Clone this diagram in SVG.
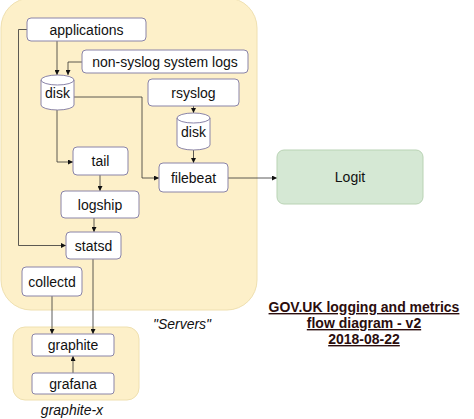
<svg xmlns="http://www.w3.org/2000/svg" width="474" height="419" viewBox="0 0 474 419">
<defs>
<style>
.t{font-family:"Liberation Sans",Arial,sans-serif;font-size:14px;fill:#111;text-anchor:middle}
.n{fill:#fff;stroke:#8a84a8;stroke-width:1}
.c{fill:none;stroke:#333;stroke-width:0.8;marker-end:url(#a)}
.grp{fill:#fdf0c9;stroke:#efe0b0;stroke-width:1}
.ti{font-family:"Liberation Sans",Arial,sans-serif;font-size:14px;font-weight:bold;fill:#2b0d0d;text-anchor:middle;text-decoration:underline}
.lb{font-family:"Liberation Sans",Arial,sans-serif;font-size:14px;font-style:italic;fill:#111;text-anchor:middle}
</style>
<marker id="a" viewBox="0 0 6 6" refX="6" refY="3" markerWidth="5" markerHeight="5" orient="auto" markerUnits="userSpaceOnUse">
<path d="M0,0 L6,3 L0,6 z" fill="#111"/>
</marker>
</defs>
<rect width="474" height="419" fill="#fff"/>
<g id="servers">
<rect class="grp" x="1" y="-2" width="256" height="312" rx="30"/>
<text class="lb" x="182" y="329">"Servers"</text>
</g>
<g id="graphite-x">
<rect class="grp" x="13" y="327" width="126" height="73" rx="12"/>
<text class="lb" x="72" y="415">graphite-x</text>
</g>
<g id="connectors">
<path class="c" d="M27,29.5 H18.5 V245.5 H66"/>
<path class="c" d="M57,41 V75"/>
<path class="c" d="M82,62 H68 V75"/>
<path class="c" d="M74,97 H142 V178 H159"/>
<path class="c" d="M57,110 V162 H73"/>
<path class="c" d="M193.5,106 V113"/>
<path class="c" d="M193.5,150 V163"/>
<path class="c" d="M100,175 V191"/>
<path class="c" d="M94,218 V232"/>
<path class="c" d="M228,178 H277"/>
<path class="c" d="M93,259 V334"/>
<path class="c" d="M52,296 V334"/>
<path class="c" d="M73,373 V356"/>
</g>
<g id="applications">
<rect class="n" x="27" y="18" width="119" height="23" rx="4"/>
<text class="t" x="86.5" y="34.5">applications</text>
</g>
<g id="non-syslog">
<rect class="n" x="82" y="50" width="166" height="23" rx="4"/>
<text class="t" x="165" y="66.5">non-syslog system logs</text>
</g>
<g id="disk1">
<path class="n" d="M41,80 A16.5,5 0 0 1 74,80 V105 A16.5,5 0 0 1 41,105 Z"/>
<path fill="none" stroke="#8a84a8" d="M41,80 A16.5,5 0 0 0 74,80"/>
<text class="t" x="57.5" y="98">disk</text>
</g>
<g id="rsyslog">
<rect class="n" x="148" y="79" width="91" height="27" rx="4"/>
<text class="t" x="193.5" y="97.5">rsyslog</text>
</g>
<g id="disk2">
<path class="n" d="M177,118 A16.5,5 0 0 1 210,118 V145 A16.5,5 0 0 1 177,145 Z"/>
<path fill="none" stroke="#8a84a8" d="M177,118 A16.5,5 0 0 0 210,118"/>
<text class="t" x="193.5" y="137">disk</text>
</g>
<g id="tail">
<rect class="n" x="73" y="147" width="55" height="28" rx="4"/>
<text class="t" x="100.5" y="166">tail</text>
</g>
<g id="filebeat">
<rect class="n" x="159" y="163" width="69" height="29" rx="4"/>
<text class="t" x="193.5" y="182.5">filebeat</text>
</g>
<g id="logship">
<rect class="n" x="61" y="191" width="78" height="27" rx="4"/>
<text class="t" x="100" y="209.5">logship</text>
</g>
<g id="statsd">
<rect class="n" x="66" y="232" width="55" height="27" rx="4"/>
<text class="t" x="93.5" y="250.5">statsd</text>
</g>
<g id="collectd">
<rect class="n" x="22" y="267" width="60" height="29" rx="4"/>
<text class="t" x="52" y="286.5">collectd</text>
</g>
<g id="graphite">
<rect class="n" x="32" y="334" width="82" height="22" rx="3"/>
<text class="t" x="73" y="350">graphite</text>
</g>
<g id="grafana">
<rect class="n" x="32" y="373" width="82" height="21" rx="3"/>
<text class="t" x="73" y="388.5">grafana</text>
</g>
<g id="logit">
<rect x="277" y="150" width="146" height="54" rx="7" fill="#d5e8d4" stroke="#b9d3b4"/>
<text class="t" x="350" y="182">Logit</text>
</g>
<g id="title">
<text class="ti" x="364" y="312">GOV.UK logging and metrics</text>
<text class="ti" x="364" y="328">flow diagram - v2</text>
<text class="ti" x="364" y="344">2018-08-22</text>
</g>
</svg>
